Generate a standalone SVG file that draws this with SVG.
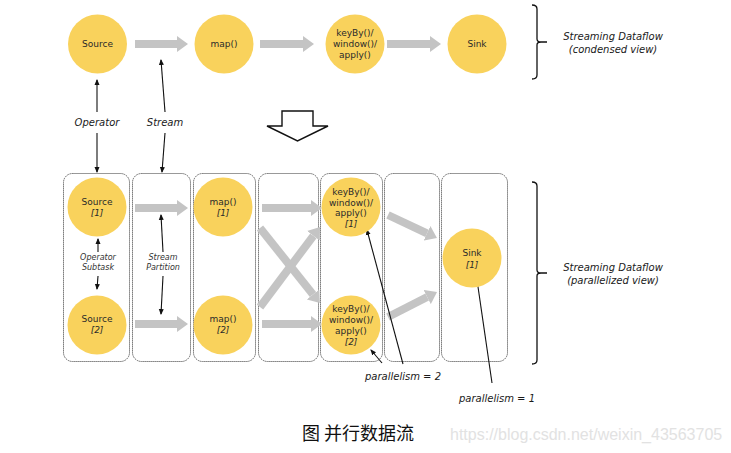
<svg xmlns="http://www.w3.org/2000/svg" width="731" height="453" viewBox="0 0 731 453">
<style>
.n{fill:#F9D25C}
.t{font-family:"DejaVu Sans",Verdana,sans-serif;font-size:9px;fill:#2a2a2a;text-anchor:middle}
.i{font-style:italic}
.lab{font-family:"DejaVu Sans",Verdana,sans-serif;font-size:10px;font-style:italic;fill:#1a1a1a;text-anchor:middle}
.sm{font-size:8px;fill:#333}
.box{fill:none;stroke:#333;stroke-width:1;stroke-dasharray:1 1}
.ga{stroke:#C4C4C4;stroke-width:8;fill:none;marker-end:url(#ga)}
.ba{stroke:#111;stroke-width:1.1;fill:none;marker-end:url(#ba)}
.br{stroke:#111;stroke-width:1.3;fill:none}
</style>
<defs>
<marker id="ga" markerUnits="userSpaceOnUse" markerWidth="11" markerHeight="16" refX="0" refY="8" orient="auto"><path d="M0,0 L11,8 L0,16 z" fill="#C4C4C4"/></marker>
<marker id="ba" markerUnits="userSpaceOnUse" markerWidth="6" markerHeight="6" refX="5" refY="3" orient="auto"><path d="M0,0.5 L6,3 L0,5.5 z" fill="#111"/></marker>
</defs>
<rect width="731" height="453" fill="#fff"/>

<g id="boxes">
<rect class="box" x="63.5" y="173.5" width="66" height="188" rx="9"/>
<rect class="box" x="132.5" y="173.5" width="58" height="188" rx="9"/>
<rect class="box" x="193.5" y="173.5" width="62" height="188" rx="9"/>
<rect class="box" x="258.5" y="173.5" width="60" height="188" rx="9"/>
<rect class="box" x="320.5" y="173.5" width="62" height="188" rx="9"/>
<rect class="box" x="384.5" y="173.5" width="55" height="188" rx="9"/>
<rect class="box" x="441.5" y="173.5" width="66" height="188" rx="9"/>
</g>

<g id="connectors">
<line class="ga" x1="135" y1="44" x2="177" y2="44"/>
<line class="ga" x1="260" y1="44" x2="303" y2="44"/>
<line class="ga" x1="387" y1="44" x2="430" y2="44"/>
<line class="ga" x1="135" y1="208" x2="177" y2="208"/>
<line class="ga" x1="135" y1="324" x2="177" y2="324"/>
<line class="ga" x1="262" y1="208" x2="311" y2="208"/>
<line class="ga" x1="262" y1="324" x2="311" y2="324"/>
<line class="ga" x1="260" y1="228" x2="313" y2="294.5"/>
<line class="ga" x1="260" y1="307" x2="313.4" y2="235.8"/>
<line class="ga" x1="388" y1="215" x2="427" y2="233.3"/>
<line class="ga" x1="388" y1="317" x2="427.2" y2="297"/>
<line class="ba" x1="97" y1="112" x2="97" y2="80"/>
<line class="ba" x1="97" y1="133" x2="97" y2="172"/>
<line class="ba" x1="165" y1="112" x2="161" y2="60"/>
<line class="ba" x1="165" y1="133" x2="162" y2="172"/>
<line class="ba" x1="98" y1="252" x2="98" y2="239"/>
<line class="ba" x1="98" y1="276" x2="97" y2="289"/>
<line class="ba" x1="163" y1="252" x2="161" y2="215"/>
<line class="ba" x1="163" y1="276" x2="161" y2="314"/>
<line class="ba" x1="403" y1="364" x2="367" y2="230"/>
<line class="ba" x1="382" y1="363" x2="371" y2="350"/>
<line class="ba" x1="492" y1="383" x2="477" y2="280"/>
</g>

<g id="source"><circle class="n" cx="97.5" cy="44" r="29.5"/><text class="t" x="97.5" y="47">Source</text></g>
<g id="map"><circle class="n" cx="224" cy="44" r="29.5"/><text class="t" x="224" y="47">map()</text></g>
<g id="keyby"><circle class="n" cx="355" cy="44" r="29.5"/><text class="t" x="355" y="36">keyBy()/</text><text class="t" x="355" y="47">window()/</text><text class="t" x="355" y="58">apply()</text></g>
<g id="sink"><circle class="n" cx="477" cy="44" r="29.5"/><text class="t" x="477" y="47">Sink</text></g>

<g id="source1"><circle class="n" cx="97" cy="207" r="29.5"/><text class="t" x="97" y="205">Source</text><text class="t i" x="97" y="216">[1]</text></g>
<g id="source2"><circle class="n" cx="97" cy="325" r="29.5"/><text class="t" x="97" y="322">Source</text><text class="t i" x="97" y="333">[2]</text></g>
<g id="map1"><circle class="n" cx="223" cy="207" r="29.5"/><text class="t" x="223" y="205">map()</text><text class="t i" x="223" y="216">[1]</text></g>
<g id="map2"><circle class="n" cx="223" cy="325" r="29.5"/><text class="t" x="223" y="322">map()</text><text class="t i" x="223" y="333">[2]</text></g>
<g id="keyby1"><circle class="n" cx="351" cy="207" r="29.5"/><text class="t" x="351" y="195">keyBy()/</text><text class="t" x="351" y="205.5">window()/</text><text class="t" x="351" y="216">apply()</text><text class="t i" x="351" y="226.5">[1]</text></g>
<g id="keyby2"><circle class="n" cx="351" cy="325" r="29.5"/><text class="t" x="351" y="312">keyBy()/</text><text class="t" x="351" y="323">window()/</text><text class="t" x="351" y="334">apply()</text><text class="t i" x="351" y="345">[2]</text></g>
<g id="sink1"><circle class="n" cx="472" cy="258" r="29.5"/><text class="t" x="472" y="256">Sink</text><text class="t i" x="472" y="268">[1]</text></g>

<g id="labels">
<text class="lab" x="97" y="126">Operator</text>
<text class="lab" x="165" y="126">Stream</text>
<text class="lab sm" x="98" y="260">Operator</text>
<text class="lab sm" x="98" y="270">Subtask</text>
<text class="lab sm" x="163" y="260">Stream</text>
<text class="lab sm" x="163" y="270">Partition</text>
<text class="lab" x="403" y="380">parallelism = 2</text>
<text class="lab" x="497" y="402">parallelism = 1</text>
<text class="lab" x="613" y="40">Streaming Dataflow</text>
<text class="lab" x="613" y="53">(condensed view)</text>
<text class="lab" x="613" y="271">Streaming Dataflow</text>
<text class="lab" x="613" y="284">(parallelized view)</text>
</g>

<g id="brackets">
<path class="br" d="M532,5 Q537,5 537,9 V39 Q537,42 541,42 H547 M541,42 Q537,42 537,45 V75 Q537,79 532,79"/>
<path class="br" d="M532,182 Q537,182 537,186 V270 Q537,273 541,273 H547 M541,273 Q537,273 537,276 V360 Q537,364 532,364"/>
</g>

<g id="bigarrow"><polygon points="282,111 313,111 313,126 328,126 297.5,141 267,126 282,126" fill="#fff" stroke="#111" stroke-width="1.4"/></g>

<g id="caption">
<text x="302" y="440" font-family="'Noto Sans CJK SC',sans-serif" font-size="18" fill="#111">图 并行数据流</text>
<text x="450" y="440" font-family="'Liberation Sans',Arial,sans-serif" font-size="16" fill="#E2E2E2">https://blog.csdn.net/weixin_43563705</text>
</g>
</svg>
